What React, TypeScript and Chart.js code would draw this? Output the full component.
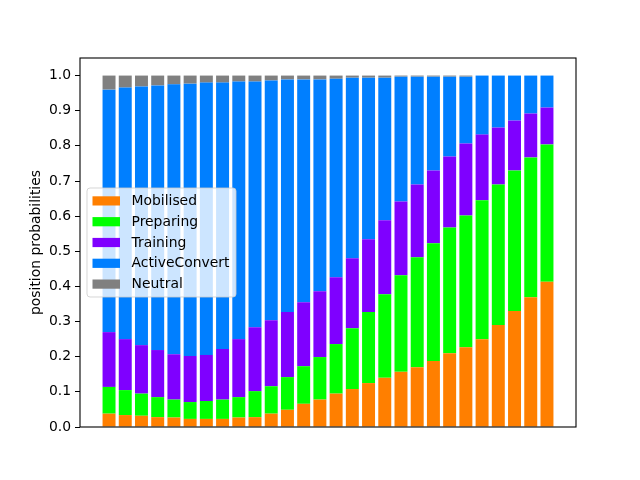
import React, { useEffect, useRef } from "react";
import { Chart, registerables } from "chart.js";

Chart.register(...registerables);

const seriesNames = ["Mobilised", "Preparing", "Training", "ActiveConvert", "Neutral"];
const seriesColors = ["#ff7f00", "#00ff00", "#7f00ff", "#007fff", "#808080"];

const positions = [0, 1, 2, 3, 4, 5, 6, 7, 8, 9, 10, 11, 12, 13, 14, 15, 16, 17, 18, 19, 20, 21, 22, 23, 24, 25, 26, 27];

const mobilised = [0.038, 0.034, 0.032, 0.028, 0.027, 0.023, 0.023, 0.023, 0.027, 0.028, 0.038, 0.049, 0.066, 0.078, 0.095, 0.108, 0.125, 0.140, 0.157, 0.170, 0.188, 0.210, 0.227, 0.250, 0.290, 0.330, 0.369, 0.413];
const preparing = [0.076, 0.071, 0.063, 0.057, 0.051, 0.048, 0.051, 0.055, 0.058, 0.074, 0.078, 0.093, 0.107, 0.121, 0.141, 0.173, 0.202, 0.238, 0.275, 0.313, 0.335, 0.358, 0.375, 0.395, 0.400, 0.400, 0.398, 0.391];
const training = [0.156, 0.145, 0.138, 0.134, 0.129, 0.131, 0.131, 0.144, 0.165, 0.182, 0.188, 0.185, 0.182, 0.187, 0.190, 0.199, 0.207, 0.210, 0.210, 0.207, 0.207, 0.202, 0.205, 0.187, 0.162, 0.142, 0.125, 0.105];
const activeConvert = [0.690, 0.716, 0.736, 0.753, 0.768, 0.775, 0.775, 0.758, 0.733, 0.699, 0.682, 0.662, 0.634, 0.603, 0.565, 0.514, 0.460, 0.406, 0.355, 0.307, 0.267, 0.227, 0.190, 0.168, 0.148, 0.128, 0.108, 0.091];
const neutral = [0.040, 0.034, 0.031, 0.028, 0.025, 0.023, 0.020, 0.020, 0.017, 0.017, 0.014, 0.011, 0.011, 0.011, 0.009, 0.006, 0.006, 0.006, 0.003, 0.003, 0.003, 0.003, 0.003, 0.0, 0.0, 0.0, 0.0, 0.0];

const yTicks = [0.0, 0.1, 0.2, 0.3, 0.4, 0.5, 0.6, 0.7, 0.8, 0.9, 1.0];
const yTickLabels = ["0.0", "0.1", "0.2", "0.3", "0.4", "0.5", "0.6", "0.7", "0.8", "0.9", "1.0"];
const yTitle = "position probabilities";

const FONT = "DejaVu Sans";
const FS = 13.9;

const framePlugin = {
  id: "frame",
  afterDatasetsDraw(chart: any) {
    const { ctx, chartArea } = chart;
    ctx.save();
    ctx.strokeStyle = "#000";
    ctx.lineWidth = 1.1;
    ctx.strokeRect(chartArea.left, chartArea.top, chartArea.right - chartArea.left, chartArea.bottom - chartArea.top);
    ctx.restore();
  },
};

const legendPlugin = {
  id: "mplLegend",
  afterDraw(chart: any) {
    const { ctx, chartArea } = chart;
    const datasets = chart.data.datasets;
    const boxW = 149;
    const rowH = 20.8;
    const boxH = 109;
    const x0 = chartArea.left + 7;
    const cy = (chartArea.top + chartArea.bottom) / 2;
    const y0 = cy - boxH / 2;
    ctx.save();
    ctx.beginPath();
    if (ctx.roundRect) ctx.roundRect(x0, y0, boxW, boxH, 3);
    else ctx.rect(x0, y0, boxW, boxH);
    ctx.fillStyle = "rgba(255,255,255,0.8)";
    ctx.fill();
    ctx.strokeStyle = "rgba(204,204,204,0.8)";
    ctx.lineWidth = 1;
    ctx.stroke();
    ctx.font = `${FS}px "${FONT}"`;
    ctx.textBaseline = "middle";
    ctx.textAlign = "left";
    datasets.forEach((ds: any, i: number) => {
      const ry = cy + (i - (datasets.length - 1) / 2) * rowH;
      ctx.fillStyle = ds.backgroundColor;
      ctx.fillRect(x0 + 5.5, ry - 4.6, 27.5, 9.2);
      ctx.fillStyle = "#000";
      ctx.fillText(ds.label, x0 + 44.5, ry + 0.5);
    });
    ctx.restore();
  },
};

export default function App() {
  const ref = useRef<HTMLCanvasElement>(null);
  useEffect(() => {
    if (!ref.current) return;
    const series = [mobilised, preparing, training, activeConvert, neutral];
    const chart = new Chart(ref.current, {
      type: "bar",
      data: {
        datasets: series.map((vals, i) => ({
          label: seriesNames[i],
          data: vals.map((v, j) => ({ x: positions[j], y: v })),
          backgroundColor: seriesColors[i],
          borderWidth: 0,
          barPercentage: 0.8,
          categoryPercentage: 1.0,
        })),
      },
      options: {
        animation: false,
        responsive: false,
        devicePixelRatio: 1,
        layout: { padding: { left: 0, right: 64, top: 58, bottom: 53 } },
        plugins: { legend: { display: false }, tooltip: { enabled: false } },
        scales: {
          x: {
            type: "linear",
            stacked: true,
            display: false,
            offset: false,
            grid: { offset: false },
            min: -0.4 - 0.05 * 27.8,
            max: 27.4 + 0.05 * 27.8,
          },
          y: {
            stacked: true,
            min: 0,
            max: 1.05,
            afterFit: (s: any) => {
              s.width = 80;
            },
            afterBuildTicks: (s: any) => {
              s.ticks = yTicks.map((v) => ({ value: v }));
            },
            border: { display: false },
            grid: {
              drawOnChartArea: false,
              drawTicks: true,
              tickLength: 5,
              tickColor: "#000",
              tickWidth: 1,
            },
            ticks: {
              padding: 4,
              color: "#000",
              font: { family: FONT, size: FS },
              callback: (v: any) => {
                const idx = yTicks.findIndex((t) => Math.abs(t - Number(v)) < 1e-9);
                return idx >= 0 ? yTickLabels[idx] : "";
              },
            },
            title: {
              display: true,
              text: yTitle,
              color: "#000",
              font: { family: FONT, size: FS },
              padding: { top: 28, bottom: 0 },
            },
          },
        },
      },
      plugins: [framePlugin, legendPlugin],
    });
    return () => chart.destroy();
  }, []);
  return (
    <div style={{ position: "absolute", left: 0, top: 0, width: 640, height: 480, background: "#fff" }}>
      <canvas ref={ref} width={640} height={480} />
    </div>
  );
}
